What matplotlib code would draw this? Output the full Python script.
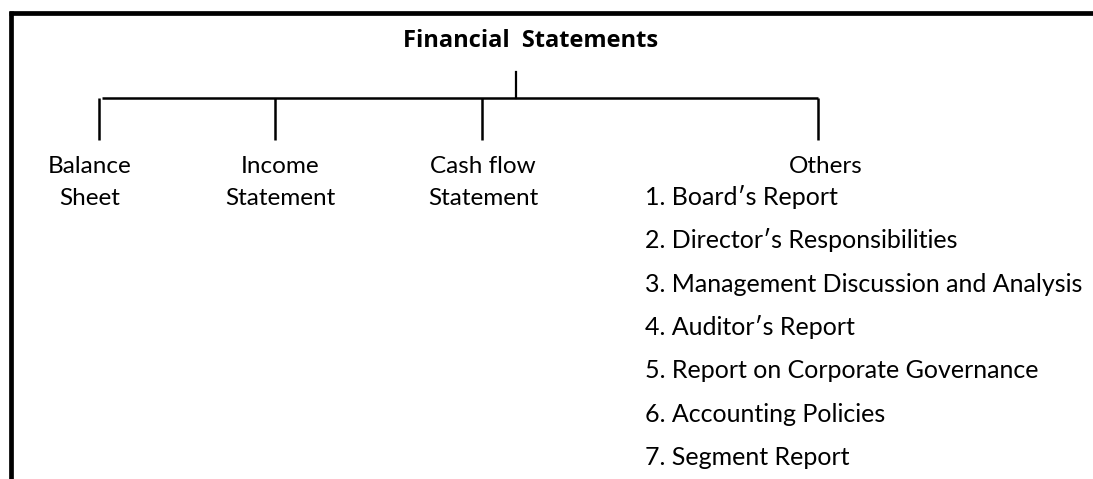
import matplotlib
matplotlib.use("Agg")
import matplotlib.pyplot as plt

# tree content
root = "Financial  Statements"
children = ["Balance\nSheet", "Income\nStatement", "Cash flow\nStatement", "Others"]
others_items = ["Board\u2032s Report", "Director\u2032s Responsibilities",
                "Management Discussion and Analysis", "Auditor\u2032s Report",
                "Report on Corporate Governance", "Accounting Policies",
                "Segment Report"]

# layout in pixel coordinates
W, H = 1093, 479
child_x = [99, 275, 482, 818]
label_x = [90, 280, 483, 826]
root_x = 516
title_x = 531
bar_y = 98
drop_y = 140
list_x = 645
list_y0 = 205
list_step = 43.3

plt.rcParams['font.family'] = ['Lato', 'DejaVu Sans']

fig = plt.figure(figsize=(W / 100, H / 100), dpi=100)
ax = fig.add_axes([0, 0, 1, 1])
ax.set_xlim(0, W)
ax.set_ylim(H, 0)
ax.axis('off')

# frame: top and left border only
ax.plot([9, W + 5], [13, 13], color='black', lw=3.4, solid_capstyle='butt')
ax.plot([10.5, 10.5], [11, H + 5], color='black', lw=3.4, solid_capstyle='butt')

ax.text(title_x, 47, root, ha='center', va='baseline', fontsize=17,
        fontweight='bold', family=['Open Sans', 'DejaVu Sans'])
ax.plot([root_x, root_x], [72, bar_y], color='black', lw=1.6)
ax.plot([child_x[0] + 3, child_x[-1]], [bar_y, bar_y], color='black', lw=1.8,
        solid_capstyle='butt')
for cx in child_x:
    ax.plot([cx, cx], [bar_y, drop_y], color='black', lw=1.8, solid_capstyle='butt')

for lx, lab in zip(label_x, children):
    lines = lab.split("\n")
    for j, ln in enumerate(lines):
        ax.text(lx, 173 + j * 32, ln, ha='center', va='baseline', fontsize=17.5)

for i, item in enumerate(others_items):
    ax.text(list_x, list_y0 + i * list_step, f"{i + 1}. {item}", ha='left',
            va='baseline', fontsize=18)

fig.savefig("out.png", dpi=100, facecolor='white')
